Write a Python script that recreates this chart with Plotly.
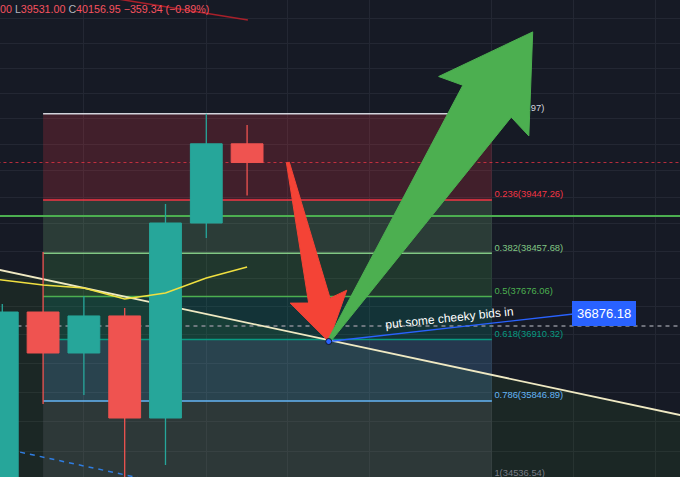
import numpy as np
import plotly.graph_objects as go

W, H = 680, 477

# ---------------- data ----------------
candle_idx = [0, 1, 2, 3, 4, 5, 6]
opens = [34300, 37398, 36675, 37328, 35557, 39017, 40516.29]
highs = [37540, 38482, 37685, 37468, 39372, 41100.97, 40882]
lows = [34100, 35794, 35948, 34536.54, 34771, 38739, 39531.00]
closes = [37398, 36675, 37328, 35557, 39017, 40516.29, 40156.95]

ma_idx = [-1, 0, 1, 2, 3, 4, 5, 6]
ma_vals = [38060, 37972, 37881, 37827, 37630, 37737, 38008, 38208]

fib_ratios = ["0", "0.236", "0.382", "0.5", "0.618", "0.786", "1"]
fib_prices = [41100.97, 39447.26, 38457.68, 37676.06, 36910.32, 35846.89, 34536.54]
fib_colors = ["#d1d4dc", "#f23645", "#81c784", "#4caf50", "#089981", "#64b5f6", "#787b86"]
fib_zone_rgb = ["242,54,69", "129,199,132", "76,175,80", "8,153,129", "100,181,246", "120,123,134"]
fib_start, fib_end = 1, 12

trend_idx = [0, 16]
trend_prices = [38145, 35699]
channel_idx = [0, 4]
channel_prices = [35049, 34463]

green_level = 39148
last_close = 40156.95
grey_level = 37149

note_start = (8, 36876.18)
note_end = (14, 37363)
note_label = "36876.18"
note_text = "put some cheeky bids in"
note_text_pos = (10.95, 37293)

red_arrow = [(7, 40156.95), (8, 36876.18)]
green_arrow = [(8, 36876.18), (13, 42734)]

top_line_idx = [2.6, 6.02]
top_line_prices = [43440, 42978]

x_grid = [2, 5, 7, 9, 12, 14, 16]
y_grid = list(range(35000, 43500, 500))

XR = [-0.056, 16.61]
YR = [4.53873, 4.63737]
UP, DOWN = "#26a69a", "#ef5350"
BODY_HALF = 0.39

# ---------------- helpers ----------------
def to_px(k, p):
    return ((k - XR[0]) / (XR[1] - XR[0]) * W,
            (YR[1] - np.log10(p)) / (YR[1] - YR[0]) * H)

def from_px(x, y):
    return (XR[0] + x / W * (XR[1] - XR[0]),
            10 ** (YR[1] - y / H * (YR[1] - YR[0])))

def arrow_poly(start, end, tail_hw, shaft_hw, barb_hw, head_barb, head_inner):
    x0, y0 = to_px(*start)
    x1, y1 = to_px(*end)
    dx, dy = x1 - x0, y1 - y0
    L = np.hypot(dx, dy)
    ux, uy = dx / L, dy / L
    nx, ny = -uy, ux
    spec = [(0, tail_hw), (L - head_inner, shaft_hw), (L - head_barb, barb_hw), (L, 0),
            (L - head_barb, -barb_hw), (L - head_inner, -shaft_hw), (0, -tail_hw)]
    xs, ys = [], []
    for a, p in spec:
        k, pr = from_px(x0 + ux * a + nx * p, y0 + uy * a + ny * p)
        xs.append(k)
        ys.append(pr)
    xs.append(xs[0]); ys.append(ys[0])
    return xs, ys

def extend_line(idx, prices, k_from, k_to):
    l0, l1 = np.log10(prices[0]), np.log10(prices[1])
    s = (l1 - l0) / (idx[1] - idx[0])
    return [k_from, k_to], [10 ** (l0 + s * (k_from - idx[0])), 10 ** (l0 + s * (k_to - idx[0]))]

fig = go.Figure()

# channel fill below trend line
tx, ty = extend_line(trend_idx, trend_prices, -1, 17.5)
fig.add_trace(go.Scatter(x=tx + [17.5, -1, -1], y=ty + [30000, 30000, ty[0]],
                         fill="toself", fillcolor="rgba(80,160,40,0.10)",
                         line=dict(width=0), mode="lines", hoverinfo="skip"))

# fib zones
for i in range(len(fib_prices) - 1):
    top, bot = fib_prices[i], fib_prices[i + 1]
    fig.add_trace(go.Scatter(x=[fib_start, fib_end, fib_end, fib_start, fib_start],
                             y=[top, top, bot, bot, top], fill="toself",
                             fillcolor="rgba(%s,0.2)" % fib_zone_rgb[i],
                             line=dict(width=0), mode="lines", hoverinfo="skip"))
# fib lines
for p, c in zip(fib_prices, fib_colors):
    fig.add_trace(go.Scatter(x=[fib_start, fib_end], y=[p, p], mode="lines",
                             line=dict(color=c, width=1.5), hoverinfo="skip"))

# fib labels (as text traces so the arrow can cover them)
lab_x, lab_y = [], []
for p in fib_prices:
    px_x, px_y = to_px(fib_end, p)
    px_y = min(px_y, H + 2) - 5
    k, pr = from_px(px_x + 2.5, px_y)
    lab_x.append(k)
    lab_y.append(pr)
fig.add_trace(go.Scatter(x=lab_x, y=lab_y, mode="text",
                         text=["%s(%.2f)" % (r, p) for r, p in zip(fib_ratios, fib_prices)],
                         textposition="middle right",
                         textfont=dict(family="Liberation Sans", size=9.4, color=fib_colors),
                         hoverinfo="skip", cliponaxis=False))

# horizontal full-width lines
fig.add_trace(go.Scatter(x=[-1, 17.5], y=[green_level, green_level], mode="lines",
                         line=dict(color="#4caf50", width=2), hoverinfo="skip"))
fig.add_trace(go.Scatter(x=[-1, 17.5], y=[last_close, last_close], mode="lines",
                         line=dict(color="rgba(242,54,69,0.75)", width=1, dash="dot"), hoverinfo="skip"))
fig.add_trace(go.Scatter(x=[-1, 17.5], y=[grey_level, grey_level], mode="lines",
                         line=dict(color="#8a8d96", width=1.5, dash="4px,4px"), hoverinfo="skip"))

# trend line & channel line
fig.add_trace(go.Scatter(x=tx, y=ty, mode="lines", line=dict(color="#efe9c3", width=1.8), hoverinfo="skip"))
cx, cy = extend_line(channel_idx, channel_prices, -1, 6)
fig.add_trace(go.Scatter(x=cx, y=cy, mode="lines",
                         line=dict(color="#2f7de1", width=1.5, dash="5px,5px"), hoverinfo="skip"))

# top red line
fig.add_trace(go.Scatter(x=top_line_idx, y=top_line_prices, mode="lines",
                         line=dict(color="#a8202a", width=1.5), hoverinfo="skip"))

# candles (drawn as scatter so that layering follows trace order)
for color, is_up in ((UP, True), (DOWN, False)):
    wx, wy, bx, by = [], [], [], []
    for k, o, h, l, c in zip(candle_idx, opens, highs, lows, closes):
        if (c >= o) != is_up:
            continue
        wx += [k, k, None]
        wy += [l, h, None]
        bx += [k - BODY_HALF, k + BODY_HALF, k + BODY_HALF, k - BODY_HALF, k - BODY_HALF, None]
        by += [o, o, c, c, o, None]
    fig.add_trace(go.Scatter(x=wx, y=wy, mode="lines", line=dict(color=color, width=1.3),
                             hoverinfo="skip"))
    fig.add_trace(go.Scatter(x=bx, y=by, mode="lines", fill="toself", fillcolor=color,
                             line=dict(color=color, width=1), hoverinfo="skip"))

# moving average
fig.add_trace(go.Scatter(x=ma_idx, y=ma_vals, mode="lines",
                         line=dict(color="#f0e040", width=1.5), hoverinfo="skip"))

# note line
fig.add_trace(go.Scatter(x=[note_start[0], note_end[0]], y=[note_start[1], note_end[1]], mode="lines",
                         line=dict(color="#2962ff", width=1.3), hoverinfo="skip"))

# arrows
rx, ry = arrow_poly(red_arrow[0], red_arrow[1], 1.5, 11, 29, 46, 42)
fig.add_trace(go.Scatter(x=rx, y=ry, fill="toself", fillcolor="#f44336", mode="lines",
                         line=dict(color="#f44336", width=1), hoverinfo="skip"))
gx, gy = arrow_poly(green_arrow[0], green_arrow[1], 1.5, 29, 54, 89, 83)
fig.add_trace(go.Scatter(x=gx, y=gy, fill="toself", fillcolor="#4caf50", mode="lines",
                         line=dict(color="#4caf50", width=1), hoverinfo="skip"))

fig.add_trace(go.Scatter(x=[note_start[0]], y=[note_start[1]], mode="markers",
                         marker=dict(color="#2962ff", size=6, line=dict(color="#131722", width=1)),
                         hoverinfo="skip"))

annotations = []
# note text
annotations.append(dict(x=note_text_pos[0], y=np.log10(note_text_pos[1]), xref="x", yref="y",
                        text=note_text, showarrow=False, textangle=-6,
                        font=dict(family="Liberation Sans", size=12, color="#ffffff")))
# note price label
annotations.append(dict(x=note_end[0] - 0.04, y=np.log10(note_end[1]), xref="x", yref="y",
                        text=note_label, showarrow=False, xanchor="left", yanchor="middle",
                        bgcolor="#2962ff", bordercolor="#2962ff", borderpad=4, borderwidth=1,
                        font=dict(family="Liberation Sans", size=13, color="#ffffff")))
# header
red = "#f7525f"
grey = "#b2b5be"
header = ("<span style='color:%s'>00</span> <span style='color:%s'>L</span><span style='color:%s'>39531.00</span> "
          "<span style='color:%s'>C</span><span style='color:%s'>40156.95 −359.34 (−0.89%%)</span>"
          % (red, grey, red, grey, red))
annotations.append(dict(x=-2 / W, y=1 - 9 / H, xref="paper", yref="paper", text=header,
                        showarrow=False, xanchor="left", yanchor="middle",
                        font=dict(family="Liberation Sans", size=10.7, color=red)))

fig.update_layout(
    width=W, height=H, margin=dict(l=0, r=0, t=0, b=0),
    paper_bgcolor="#161a25", plot_bgcolor="#161a25",
    showlegend=False, hovermode=False,
    annotations=annotations,
    xaxis=dict(range=XR, showgrid=True, gridcolor="#232733", gridwidth=1,
               tickmode="array", tickvals=x_grid, showticklabels=False, ticks="",
               zeroline=False, showline=False, fixedrange=True),
    yaxis=dict(type="log", range=YR, showgrid=True, gridcolor="#232733", gridwidth=1,
               tickmode="array", tickvals=y_grid, showticklabels=False, ticks="",
               zeroline=False, showline=False, fixedrange=True),
)

fig.write_html("out.html", config={"displayModeBar": False},
               post_script="document.body.style.margin='0';document.body.style.overflow='hidden';"
                           "document.body.style.background='#161a25';")
